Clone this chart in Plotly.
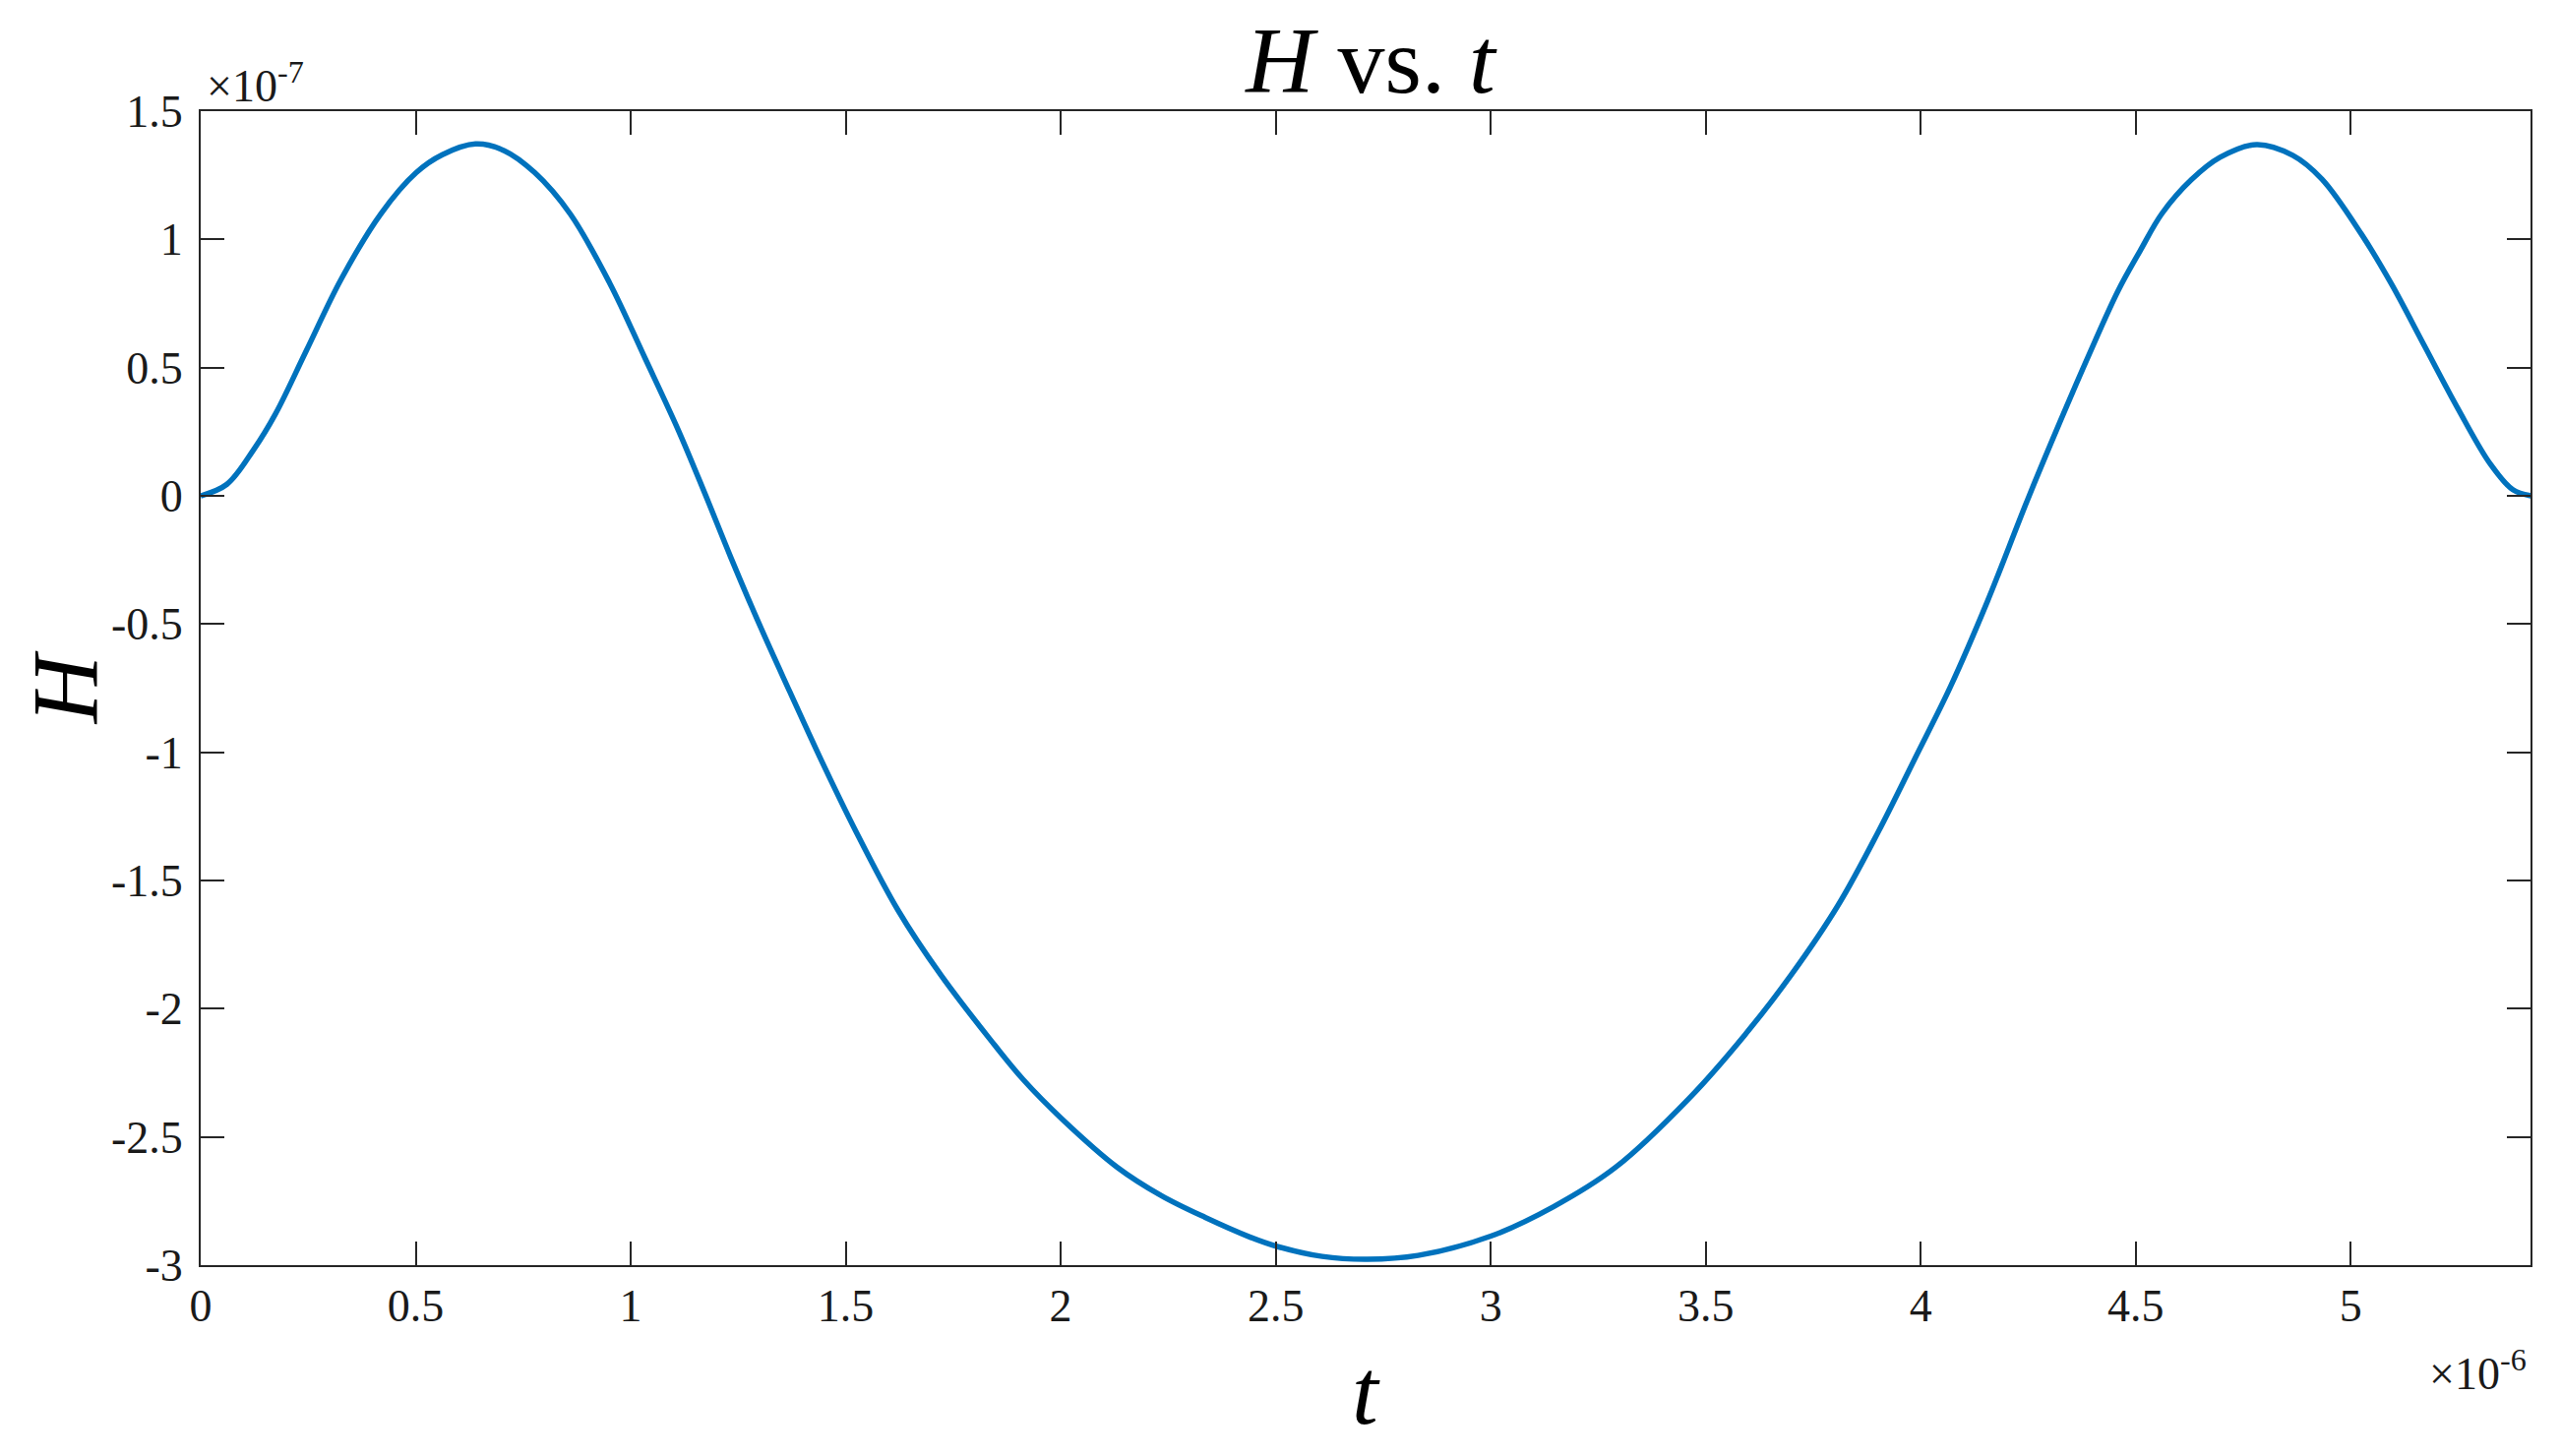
import plotly.graph_objects as go

# t in units of 1e-6, H in units of 1e-7
t_vals = [0, 0.061, 0.123, 0.174, 0.245, 0.327, 0.419, 0.501, 0.562, 0.639,
          0.706, 0.777, 0.859, 0.951, 1.033, 1.111, 1.172, 1.233, 1.302, 1.370,
          1.439, 1.523, 1.622, 1.721, 1.836, 1.912, 2.003, 2.132, 2.234, 2.336,
          2.438, 2.505, 2.608, 2.713, 2.831, 3.0, 3.146, 3.290, 3.461, 3.592,
          3.698, 3.808, 3.901, 3.986, 4.070, 4.155, 4.248, 4.324, 4.392, 4.459,
          4.510, 4.561, 4.629, 4.696, 4.781, 4.865, 4.933, 5.025, 5.094, 5.171,
          5.248, 5.325, 5.377, 5.419]
H_vals = [0, 0.045, 0.18, 0.32, 0.564, 0.846, 1.10, 1.26, 1.33, 1.372,
          1.346, 1.26, 1.10, 0.83, 0.538, 0.255, 0.011, -0.241, -0.512, -0.764,
          -1.016, -1.306, -1.617, -1.868, -2.120, -2.275, -2.430, -2.619, -2.729, -2.814,
          -2.889, -2.928, -2.966, -2.977, -2.962, -2.887, -2.772, -2.619, -2.350, -2.100,
          -1.870, -1.596, -1.311, -1.026, -0.741, -0.412, -0.017, 0.289, 0.553, 0.800,
          0.955, 1.101, 1.232, 1.320, 1.370, 1.328, 1.235, 1.020, 0.828, 0.586,
          0.344, 0.123, 0.024, 0]

x_ticks = [0, 0.5, 1, 1.5, 2, 2.5, 3, 3.5, 4, 4.5, 5]
x_labels = ["0", "0.5", "1", "1.5", "2", "2.5", "3", "3.5", "4", "4.5", "5"]
y_ticks = [-3, -2.5, -2, -1.5, -1, -0.5, 0, 0.5, 1, 1.5]
y_labels = ["-3", "-2.5", "-2", "-1.5", "-1", "-0.5", "0", "0.5", "1", "1.5"]

serif = "Liberation Serif"
axis_col = "#262626"

fig = go.Figure()
fig.add_trace(go.Scatter(x=t_vals, y=H_vals, mode="lines",
                         line=dict(color="#0072BD", width=5.5, shape="spline", smoothing=1.0),
                         showlegend=False, hoverinfo="skip"))

axis_common = dict(showgrid=False, zeroline=False, showline=True, linecolor=axis_col,
                   linewidth=2, mirror="ticks", ticks="inside", ticklen=24,
                   tickwidth=2, tickcolor=axis_col,
                   tickfont=dict(family=serif, size=46, color="#1a1a1a"))

fig.update_xaxes(range=[0, 5.418], tickvals=x_ticks, ticktext=x_labels,
                 ticklabelstandoff=0, **axis_common)
fig.update_yaxes(range=[-3, 1.5], tickvals=y_ticks, ticktext=y_labels,
                 ticklabelstandoff=7, **axis_common)

# the page body adds an 8px margin, so the figure is drawn 8px smaller
fig.update_layout(
    width=2595, height=1472,
    margin=dict(l=196, r=31, t=105, b=194),
    paper_bgcolor="white", plot_bgcolor="white",
    title=dict(text="<i>H</i> vs. <i>t</i>", x=0.5337, xanchor="center",
               y=0.9646, yanchor="middle", yref="container",
               font=dict(family=serif, size=96, color="black")),
    annotations=[
        dict(text="<i>H</i>", xref="paper", yref="paper", x=-0.058, y=0.5,
             textangle=-90, showarrow=False, xanchor="center", yanchor="middle",
             font=dict(family=serif, size=96, color="black")),
        dict(text="<i>t</i>", xref="paper", yref="paper", x=0.5, y=-0.1095,
             showarrow=False, xanchor="center", yanchor="middle",
             font=dict(family=serif, size=96, color="black")),
        dict(text="×10<sup>-7</sup>", xref="paper", yref="paper", x=0, y=1,
             xshift=4, yshift=-2, showarrow=False, xanchor="left", yanchor="bottom",
             font=dict(family=serif, size=46, color="#1a1a1a")),
        dict(text="×10<sup>-6</sup>", xref="paper", yref="paper", x=1, y=-0.1176,
             xshift=-2, showarrow=False, xanchor="right", yanchor="bottom",
             font=dict(family=serif, size=46, color="#1a1a1a")),
    ],
)

fig.write_html("out.html")
